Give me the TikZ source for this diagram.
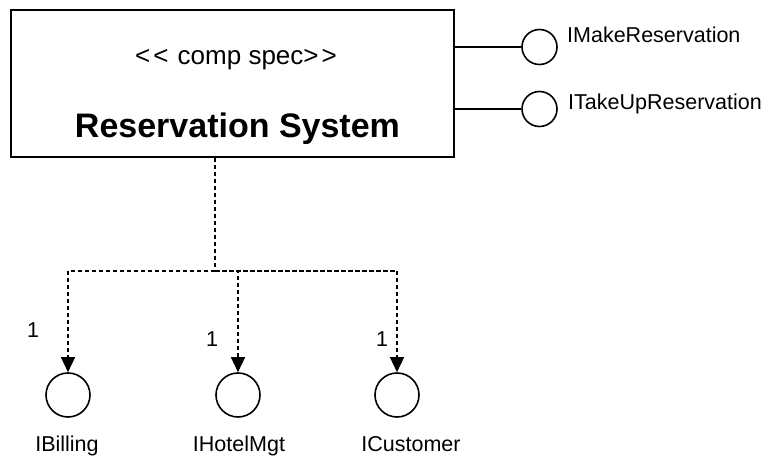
\documentclass[tikz,border=0pt]{standalone}
\usepackage{fontspec}
\setmainfont{Liberation Sans}
\usetikzlibrary{arrows.meta, positioning}

\begin{document}
\begin{tikzpicture}
[
	x=1pt, y=-1pt,
	comp/.style={rectangle,draw,line width=1.9,minimum width=443pt,minimum height=147pt},
	iface/.style={circle,draw,line width=1.6,inner sep=0pt},
	lbl/.style={font=\fontsize{21.5}{24}\selectfont,inner sep=0pt},
	dep/.style={line width=1.4,dash pattern=on 4.5pt off 2.5pt,-{Triangle[length=15pt,width=14pt]}}
]
\useasboundingbox (0,0) rectangle (772,457);

\node[comp] (sys) at (232.5,83.5) {};
\node[inner sep=0pt, font=\fontsize{26}{28}\selectfont, anchor=base] (st) at (236,65) {<\kern3pt<\kern2pt\ comp spec>\kern3pt>};
\node[inner sep=0pt, font=\fontsize{34}{38}\selectfont\bfseries, anchor=base] (nm) at (237.5,138) {Reservation System};

\node[iface, minimum size=35pt] (mk) at (539.5,47) {};
\node[iface, minimum size=35pt] (tk) at (539.5,109) {};
\node[lbl, anchor=base west] (mkl) at (567,43) {IMakeReservation};
\node[lbl, anchor=base west] (tkl) at (568,110) {ITakeUpReservation};

\draw[line width=1.8] (sys.east |- mk.west) -- (mk.west);
\draw[line width=1.8] (sys.east |- tk.west) -- (tk.west);

\coordinate (j) at (215,271);
\node[iface, minimum size=44pt] (bil) at (68,395) {};
\node[iface, minimum size=44pt] (hot) at (238,395) {};
\node[iface, minimum size=44pt] (cus) at (397,395) {};

\node[lbl, anchor=base] (bill) at (67,451) {IBilling};
\node[lbl, anchor=base] (hotl) at (239,451) {IHotelMgt};
\node[lbl, anchor=base] (cusl) at (411,451) {ICustomer};

\node[lbl, anchor=base] (m1) at (33,338) {1};
\node[lbl, anchor=base] (m2) at (212,347) {1};
\node[lbl, anchor=base] (m3) at (382,347) {1};

\draw[line width=1.4,dash pattern=on 4.5pt off 2.5pt] (sys.south -| j) -- (j);
\draw[dep] (j) -| (bil);
\draw[dep] (j) -| (hot);
\draw[dep] (j) -| (cus);

\end{tikzpicture}
\end{document}
